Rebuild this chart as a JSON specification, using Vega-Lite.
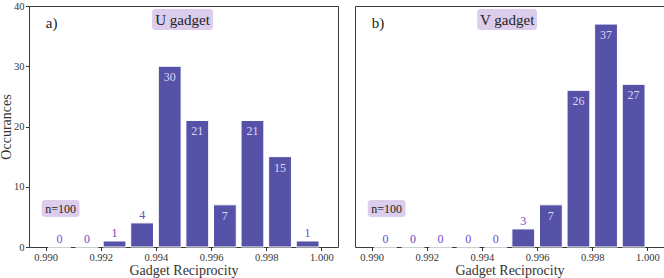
{
  "$schema": "https://vega.github.io/schema/vega-lite/v6.json",
  "padding": {"left": -2, "top": 0, "right": 0, "bottom": 0},
  "spacing": 15,
  "config": {
    "font": "Liberation Serif",
    "view": {"stroke": "#3a3a3a", "strokeWidth": 1},
    "axis": {
      "labelFont": "Liberation Serif", "labelFontSize": 10.5, "labelColor": "#333",
      "titleFont": "Liberation Serif", "titleFontSize": 14, "titleFontWeight": "normal", "titleColor": "#333",
      "grid": false, "domain": false, "tickColor": "#333", "tickSize": 3.5, "labelPadding": 1.5
    }
  },
  "datasets": {
    "counts": [
      {"gadget": "U", "center": 0.9905, "count": 0},
      {"gadget": "U", "center": 0.9915, "count": 0},
      {"gadget": "U", "center": 0.9925, "count": 1},
      {"gadget": "U", "center": 0.9935, "count": 4},
      {"gadget": "U", "center": 0.9945, "count": 30},
      {"gadget": "U", "center": 0.9955, "count": 21},
      {"gadget": "U", "center": 0.9965, "count": 7},
      {"gadget": "U", "center": 0.9975, "count": 21},
      {"gadget": "U", "center": 0.9985, "count": 15},
      {"gadget": "U", "center": 0.9995, "count": 1},
      {"gadget": "V", "center": 0.9905, "count": 0},
      {"gadget": "V", "center": 0.9915, "count": 0},
      {"gadget": "V", "center": 0.9925, "count": 0},
      {"gadget": "V", "center": 0.9935, "count": 0},
      {"gadget": "V", "center": 0.9945, "count": 0},
      {"gadget": "V", "center": 0.9955, "count": 3},
      {"gadget": "V", "center": 0.9965, "count": 7},
      {"gadget": "V", "center": 0.9975, "count": 26},
      {"gadget": "V", "center": 0.9985, "count": 37},
      {"gadget": "V", "center": 0.9995, "count": 27}
    ]
  },
  "hconcat": [
    {
      "width": 309, "height": 241,
      "layer": [
        {"data": {"name": "counts"}, "transform": [{"filter": "datum.gadget === 'U'"}],
         "mark": {"type": "bar", "size": 22.8, "color": "#5552a8", "stroke": "white", "strokeWidth": 1},
         "encoding": {
           "x": {"field": "center", "type": "quantitative",
                 "scale": {"domain": [0.98958, 1.00042], "nice": false, "zero": false},
                 "axis": {"title": "Gadget Reciprocity", "values": [0.990, 0.992, 0.994, 0.996, 0.998, 1.000], "format": ".3f", "titlePadding": 1}},
           "y": {"field": "count", "type": "quantitative",
                 "scale": {"domain": [0, 40], "nice": false},
                 "axis": {"title": "Occurances", "values": [0, 5, 10, 15, 20, 25, 30, 35, 40], "titleX": -16, "titleY": 120.5, "titleAlign": "center", "titleBaseline": "bottom", "titleAngle": -90}}
         }},
        {"data": {"name": "counts"}, "transform": [{"filter": "datum.gadget === 'U' && datum.count < 5"}],
         "mark": {"type": "text", "baseline": "alphabetic", "dy": -4, "fontSize": 12, "color": "#6a4bc8"},
         "encoding": {"x": {"field": "center", "type": "quantitative"}, "y": {"field": "count", "type": "quantitative"}, "text": {"field": "count"}}},
        {"data": {"name": "counts"}, "transform": [{"filter": "datum.gadget === 'U' && datum.count >= 5"}],
         "mark": {"type": "text", "baseline": "middle", "dy": 11, "fontSize": 12, "color": "#dcd8f2"},
         "encoding": {"x": {"field": "center", "type": "quantitative"}, "y": {"field": "count", "type": "quantitative"}, "text": {"field": "count"}}},
        {"data": {"values": [{}]},
         "mark": {"type": "text", "align": "left", "baseline": "middle", "fontSize": 15, "color": "#222"},
         "encoding": {"x": {"datum": 0.99001, "type": "quantitative"}, "y": {"datum": 37.1, "type": "quantitative"}, "text": {"value": "a)"}}},
        {"data": {"values": [{}]},
         "mark": {"type": "rect", "color": "#dccdec", "cornerRadius": 3},
         "encoding": {"x": {"datum": 0.99386, "type": "quantitative"}, "x2": {"datum": 0.99607}, "y": {"datum": 39.5, "type": "quantitative"}, "y2": {"datum": 36.0}}},
        {"data": {"values": [{}]},
         "mark": {"type": "text", "align": "center", "baseline": "middle", "fontSize": 15, "color": "#222"},
         "encoding": {"x": {"datum": 0.994965, "type": "quantitative"}, "y": {"datum": 37.75, "type": "quantitative"}, "text": {"value": "U gadget"}}},
        {"data": {"values": [{}]},
         "mark": {"type": "rect", "color": "#dccdec", "cornerRadius": 3},
         "encoding": {"x": {"datum": 0.98986, "type": "quantitative"}, "x2": {"datum": 0.99123}, "y": {"datum": 7.8, "type": "quantitative"}, "y2": {"datum": 4.98}}},
        {"data": {"values": [{}]},
         "mark": {"type": "text", "align": "center", "baseline": "middle", "fontSize": 12, "color": "#222"},
         "encoding": {"x": {"datum": 0.990545, "type": "quantitative"}, "y": {"datum": 6.39, "type": "quantitative"}, "text": {"value": "n=100"}}}
      ]
    },
    {
      "width": 309, "height": 241,
      "layer": [
        {"data": {"name": "counts"}, "transform": [{"filter": "datum.gadget === 'V'"}],
         "mark": {"type": "bar", "size": 22.8, "color": "#5552a8", "stroke": "white", "strokeWidth": 1},
         "encoding": {
           "x": {"field": "center", "type": "quantitative",
                 "scale": {"domain": [0.98958, 1.00042], "nice": false, "zero": false},
                 "axis": {"title": "Gadget Reciprocity", "values": [0.990, 0.992, 0.994, 0.996, 0.998, 1.000], "format": ".3f", "titlePadding": 1}},
           "y": {"field": "count", "type": "quantitative",
                 "scale": {"domain": [0, 40], "nice": false},
                 "axis": null}
         }},
        {"data": {"name": "counts"}, "transform": [{"filter": "datum.gadget === 'V' && datum.count < 5"}],
         "mark": {"type": "text", "baseline": "alphabetic", "dy": -4, "fontSize": 12, "color": "#6a4bc8"},
         "encoding": {"x": {"field": "center", "type": "quantitative"}, "y": {"field": "count", "type": "quantitative"}, "text": {"field": "count"}}},
        {"data": {"name": "counts"}, "transform": [{"filter": "datum.gadget === 'V' && datum.count >= 5"}],
         "mark": {"type": "text", "baseline": "middle", "dy": 11, "fontSize": 12, "color": "#dcd8f2"},
         "encoding": {"x": {"field": "center", "type": "quantitative"}, "y": {"field": "count", "type": "quantitative"}, "text": {"field": "count"}}},
        {"data": {"values": [{}]},
         "mark": {"type": "text", "align": "left", "baseline": "middle", "fontSize": 15, "color": "#222"},
         "encoding": {"x": {"datum": 0.99001, "type": "quantitative"}, "y": {"datum": 37.1, "type": "quantitative"}, "text": {"value": "b)"}}},
        {"data": {"values": [{}]},
         "mark": {"type": "rect", "color": "#dccdec", "cornerRadius": 3},
         "encoding": {"x": {"datum": 0.99383, "type": "quantitative"}, "x2": {"datum": 0.99600}, "y": {"datum": 39.5, "type": "quantitative"}, "y2": {"datum": 36.0}}},
        {"data": {"values": [{}]},
         "mark": {"type": "text", "align": "center", "baseline": "middle", "fontSize": 15, "color": "#222"},
         "encoding": {"x": {"datum": 0.994915, "type": "quantitative"}, "y": {"datum": 37.75, "type": "quantitative"}, "text": {"value": "V gadget"}}},
        {"data": {"values": [{}]},
         "mark": {"type": "rect", "color": "#dccdec", "cornerRadius": 3},
         "encoding": {"x": {"datum": 0.98986, "type": "quantitative"}, "x2": {"datum": 0.99123}, "y": {"datum": 7.8, "type": "quantitative"}, "y2": {"datum": 4.98}}},
        {"data": {"values": [{}]},
         "mark": {"type": "text", "align": "center", "baseline": "middle", "fontSize": 12, "color": "#222"},
         "encoding": {"x": {"datum": 0.990545, "type": "quantitative"}, "y": {"datum": 6.39, "type": "quantitative"}, "text": {"value": "n=100"}}}
      ]
    }
  ]
}
